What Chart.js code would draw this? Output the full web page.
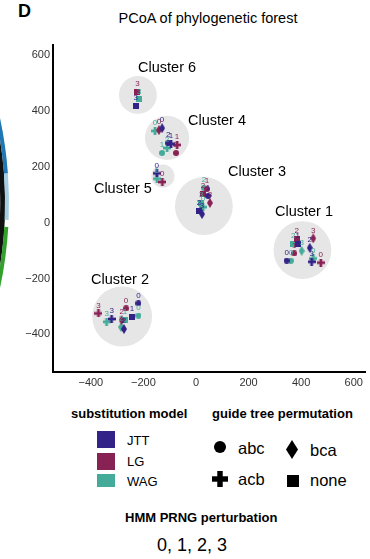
<!DOCTYPE html>
<html>
<head>
<meta charset="utf-8">
<script src="https://cdn.jsdelivr.net/npm/chart.js@4.4.1/dist/chart.umd.min.js"></script>
<style>
body{margin:0;width:370px;height:559px;position:relative;overflow:hidden;background:#fff;font-family:"Liberation Sans",Arial,sans-serif;color:#000}
#wrap{position:absolute;left:0;top:0;width:370px;height:395px}
.t{position:absolute;white-space:nowrap;line-height:1}
.b{font-weight:bold}
.sw{position:absolute;left:97px;width:18px;height:17px}
#legend{position:absolute;left:0;top:400px;width:370px;height:87px;overflow:hidden}
#legend canvas{position:absolute}
</style>
</head>
<body>
<div class="t b" style="left:18px;top:2px;font-size:18px">D</div>
<div class="t" style="left:58px;top:11px;width:300px;text-align:center;font-size:14.5px">PCoA of phylogenetic forest</div>
<div id="wrap"><canvas id="pcoa"></canvas></div>

<div id="legend">
  <div class="t b" style="left:71px;top:7px;font-size:13px">substitution model</div>
  <div class="t b" style="left:212px;top:7px;font-size:13px">guide tree permutation</div>
  <div class="sw" style="top:31px;background:#332288"></div>
  <div class="sw" style="top:52.5px;background:#882255"></div>
  <div class="sw" style="top:74px;background:#44aa99"></div>
  <div class="t" style="left:127px;top:33.5px;font-size:13px">JTT</div>
  <div class="t" style="left:127px;top:55px;font-size:13px">LG</div>
  <div class="t" style="left:127px;top:75px;font-size:13px">WAG</div>
  <div class="t" style="left:238px;top:40px;font-size:16.5px">abc</div>
  <div class="t" style="left:310px;top:42px;font-size:16.5px">bca</div>
  <div class="t" style="left:238px;top:71px;font-size:16.5px">acb</div>
  <div class="t" style="left:310px;top:72px;font-size:16.5px">none</div>
</div>
<div class="t b" style="left:125px;top:511px;font-size:13px">HMM PRNG perturbation</div>
<div class="t" style="left:157px;top:536px;font-size:18px">0, 1, 2, 3</div>

<script>
// substitution models, guide tree permutations
const models = ['JTT', 'LG', 'WAG'];
const modelColors = ['#332288', '#882255', '#44aa99'];
const trees = ['abc', 'acb', 'bca', 'none'];

// clusters (PCoA units)
const clusterNames = ['Cluster 1', 'Cluster 2', 'Cluster 3', 'Cluster 4', 'Cluster 5', 'Cluster 6'];
const clusterX = [405, -281, 30, -110, -126, -221];
const clusterY = [-98, -336, 60, 304, 167, 458];
const clusterR = [110, 114, 110, 84, 44, 72];
const clusterLabelX = [411, -289, 232, 80, -278, -110];
const clusterLabelY = [37, -204, 182, 366, 121, 556];

// one entry per alignment tree
const ptModel = [
  'LG','WAG','JTT',
  'WAG','LG','JTT','JTT','JTT','LG','WAG','WAG','LG',
  'JTT','WAG','LG',
  'WAG','LG','LG','JTT','WAG','LG','WAG','JTT','JTT',
  'LG','WAG','JTT','LG','WAG','JTT','LG','JTT','WAG','WAG','JTT','LG',
  'JTT','LG','JTT','WAG','LG','JTT','WAG','LG','WAG','WAG','JTT'
];
const ptTree = [
  'none','none','none',
  'acb','bca','bca','abc','acb','acb','acb','abc','abc',
  'acb','acb','acb',
  'abc','abc','none','abc','none','bca','acb','none','bca',
  'none','none','none','bca','bca','bca','abc','abc','abc','acb','acb','acb',
  'abc','abc','none','abc','acb','acb','acb','bca','none','bca','bca'
];
const ptSeed = [
  3,3,3,
  0,0,0,2,1,1,2,1,2,
  0,1,0,
  2,1,2,1,3,3,0,2,3,
  2,2,1,3,3,2,1,0,0,0,3,0,
  0,0,1,0,3,3,3,2,1,2,2
];
const ptX = [
  -223,-216,-229,
  -156,-141,-129,-106,-95,-72,-110,-129,-76,
  -149,-149,-128,
  30,42,27,46,19,53,27,11,23,
  383,370,387,446,402,433,374,345,361,446,440,475,
  -219,-266,-244,-219,-371,-321,-340,-283,-270,-285,-274
];
const ptY = [
  470,442,419,
  329,332,339,286,283,279,268,250,250,
  177,158,146,
  124,121,103,96,71,71,56,42,31,
  -58,-77,-77,-56,-101,-90,-110,-136,-136,-128,-140,-143,
  -289,-307,-337,-333,-325,-345,-355,-349,-349,-374,-381
];
const tickValues = [-400, -200, 0, 200, 400, 600];

const FONT = '"Liberation Sans", Arial, sans-serif';

function makeMarker(shape, color, s) {
  const c = document.createElement('canvas');
  let w = s, h = s;
  if (shape === 'bca') { h = Math.round(s * 1.6); }
  if (shape === 'acb') { w = h = Math.round(s * 1.3); }
  c.width = w; c.height = h;
  const g = c.getContext('2d');
  g.fillStyle = color;
  if (shape === 'abc') {
    g.beginPath(); g.arc(w / 2, h / 2, s / 2, 0, Math.PI * 2); g.fill();
  } else if (shape === 'none') {
    g.fillRect(0, 0, w, h);
  } else if (shape === 'bca') {
    g.beginPath(); g.moveTo(w / 2, 0); g.lineTo(w, h / 2); g.lineTo(w / 2, h); g.lineTo(0, h / 2); g.closePath(); g.fill();
  } else {
    const t = w * 0.34;
    g.fillRect((w - t) / 2, 0, t, h);
    g.fillRect(0, (h - t) / 2, w, t);
  }
  return c;
}

const markers = models.map((m, i) => {
  const o = {};
  trees.forEach(t => { o[t] = makeMarker(t, modelColors[i], 6); });
  return o;
});

// legend shapes
[['abc', 214, 41], ['bca', 286, 40], ['acb', 212, 71], ['none', 287, 75]].forEach(([t, l, tp]) => {
  const c = makeMarker(t, '#000', 12);
  c.style.left = l + 'px'; c.style.top = tp + 'px';
  document.getElementById('legend').appendChild(c);
});

const datasets = models.map((m, i) => ({
  label: m,
  data: ptModel.map((pm, k) => pm === m ? { x: ptX[k], y: ptY[k], tree: ptTree[k], seed: ptSeed[k] } : null).filter(Boolean),
  pointStyle: ctx => ctx.raw ? markers[i][ctx.raw.tree] : 'circle',
  pointRadius: 4,
  backgroundColor: modelColors[i],
  borderColor: modelColors[i]
}));

const clusterPlugin = {
  id: 'clusters',
  beforeDraw(chart) {
    // edge of neighbouring panel
    const ctx = chart.ctx;
    ctx.save();
    ctx.lineWidth = 5;
    ctx.strokeStyle = '#111';
    ctx.beginPath(); ctx.arc(-396, 203, 398.5, -0.25, 0.25); ctx.stroke();
    const segs = [[-0.25, -0.073, '#1f78b4'], [-0.073, 0.042, '#a6cee3'], [0.059, 0.25, '#33a02c']];
    ctx.lineWidth = 4;
    segs.forEach(([a, b, col]) => {
      ctx.strokeStyle = col;
      ctx.beginPath(); ctx.arc(-396, 203, 403, a, b); ctx.stroke();
    });
    ctx.restore();
  },
  beforeDatasetsDraw(chart) {
    const { ctx, scales: { x, y } } = chart;
    ctx.save();
    ctx.fillStyle = '#e6e6e6';
    clusterX.forEach((cx, i) => {
      const px = x.getPixelForValue(cx), py = y.getPixelForValue(clusterY[i]);
      const r = x.getPixelForValue(cx + clusterR[i]) - px;
      ctx.beginPath(); ctx.arc(px, py, r, 0, Math.PI * 2); ctx.fill();
    });
    ctx.restore();
  },
  afterDatasetsDraw(chart) {
    const { ctx, scales: { x, y } } = chart;
    ctx.save();
    ctx.textAlign = 'center';
    ctx.textBaseline = 'middle';
    ctx.font = '8px ' + FONT;
    chart.data.datasets.forEach((ds, i) => {
      chart.getDatasetMeta(i).data.forEach((el, k) => {
        ctx.fillStyle = modelColors[i];
        ctx.fillText(String(ds.data[k].seed), el.x, el.y - 8);
      });
    });
    ctx.font = '14.5px ' + FONT;
    ctx.fillStyle = '#000';
    clusterNames.forEach((n, i) => {
      ctx.fillText(n, x.getPixelForValue(clusterLabelX[i]), y.getPixelForValue(clusterLabelY[i]));
    });
    ctx.restore();
  }
};

const tickOpts = {
  color: '#333',
  font: { family: FONT, size: 11 },
  padding: 4,
  callback: v => String(v).replace('-', '\u2212')
};

new Chart(document.getElementById('pcoa'), {
  type: 'scatter',
  data: { datasets },
  options: {
    responsive: true,
    maintainAspectRatio: false,
    animation: false,
    events: [],
    layout: { padding: { top: 45, right: 5, left: 0, bottom: 0 } },
    plugins: { legend: { display: false }, tooltip: { enabled: false }, title: { display: false } },
    scales: {
      x: {
        type: 'linear', min: -544, max: 643,
        grid: { display: false, drawTicks: false },
        border: { display: true, color: '#000', width: 2 },
        ticks: tickOpts,
        afterBuildTicks: s => { s.ticks = tickValues.map(v => ({ value: v })); },
        afterFit: s => { s.height = 23; }
      },
      y: {
        type: 'linear', min: -535, max: 637,
        grid: { display: false, drawTicks: false },
        border: { display: true, color: '#000', width: 2 },
        ticks: Object.assign({}, tickOpts, { padding: 3 }),
        afterBuildTicks: s => { s.ticks = tickValues.map(v => ({ value: v })); },
        afterFit: s => { s.width = 53; }
      }
    }
  },
  plugins: [clusterPlugin]
});
</script>
</body>
</html>
